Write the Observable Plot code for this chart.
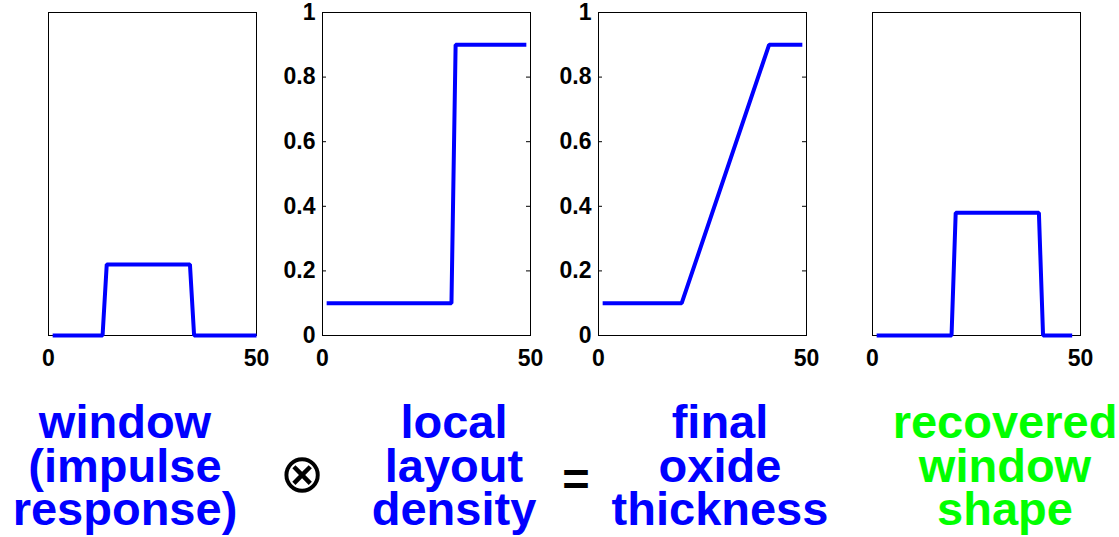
<!DOCTYPE html>
<html>
<head>
<meta charset="utf-8">
<script src="https://cdn.jsdelivr.net/npm/d3@7"></script>
<script src="https://cdn.jsdelivr.net/npm/@observablehq/plot@0.6"></script>
<style>
  html, body { margin: 0; padding: 0; background: #fff; }
  #root { position: relative; width: 1119px; height: 537px; overflow: hidden; font-family: "Liberation Sans", Arial, sans-serif; }
  .panel { position: absolute; top: 0; }
  .panel text { font-weight: bold !important; font-family: "Liberation Sans", Arial, sans-serif !important; fill: black; }
  .lbl { position: absolute; width: 300px; margin-left: -150px; text-align: center; height: 43.5px;
         font-weight: bold; font-size: 47px; line-height: 43.5px; white-space: nowrap; }
</style>
</head>
<body>
<div id="root"></div>
<script>
// ---- data ----
const xTicks = [0, 50];
const yTicks = [0, 0.2, 0.4, 0.6, 0.8, 1];

const windowX = [1, 13, 14, 34, 35, 50];
const windowY = [0, 0, 0.22, 0.22, 0, 0];

const densityX = [1, 31, 32, 49];
const densityY = [0.1, 0.1, 0.9, 0.9];

const oxideX = [1, 20, 41, 49];
const oxideY = [0.1, 0.1, 0.9, 0.9];

const recoveredX = [1, 19, 20, 40, 41, 48];
const recoveredY = [0, 0, 0.38, 0.38, 0, 0];

const captionLines = [
  ["window", "(impulse", "response)"],
  ["local", "layout", "density"],
  ["final", "oxide", "thickness"],
  ["recovered", "window", "shape"]
];
const captionColors = ["#0000ff", "#0000ff", "#0000ff", "#00ff00"];
const operators = ["\u2297", "="];

// ---- layout ----
const root = document.getElementById("root");
const panelLefts = [-4, 270, 546, 820];
const captionCenters = [125, 454, 720, 1005];
const M = {left: 52, right: 30, top: 12, bottom: 45};
const innerW = 208, innerH = 323;
const tickFont = {fontSize: 23, fontWeight: "bold"};

function makePanel(xs, ys, showY) {
  const data = xs.map((x, i) => ({x, y: ys[i]}));
  const marks = [
    Plot.frame({stroke: "black", strokeWidth: 1}),
    Plot.axisX({ticks: xTicks, tickSize: 0, tickPadding: 14, label: null, tickFormat: d => String(d), ...tickFont})
  ];
  if (showY) {
    marks.push(
      Plot.axisY({ticks: yTicks, tickSize: 0, tickPadding: 7, label: null, tickFormat: d => String(d), ...tickFont}),
      Plot.tickY(yTicks, {stroke: "black", insetRight: innerW - 4}),
      Plot.tickY(yTicks, {stroke: "black", insetLeft: innerW - 4})
    );
  }
  marks.push(Plot.line(data, {x: "x", y: "y", stroke: "#0000ff", strokeWidth: 4, strokeLinejoin: "miter", strokeLinecap: "butt"}));
  return Plot.plot({
    width: M.left + innerW + M.right,
    height: M.top + innerH + M.bottom,
    marginLeft: M.left, marginRight: M.right, marginTop: M.top, marginBottom: M.bottom,
    x: {domain: [0, 50]},
    y: {domain: [0, 1], axis: showY ? undefined : null},
    style: {background: "transparent", overflow: "visible", fontSize: "23px", fontWeight: "bold",
            fontFamily: "'Liberation Sans', Arial, sans-serif", color: "black"},
    marks
  });
}

const series = [[windowX, windowY, false], [densityX, densityY, true], [oxideX, oxideY, true], [recoveredX, recoveredY, false]];
series.forEach(([xs, ys, showY], i) => {
  const el = makePanel(xs, ys, showY);
  el.classList.add("panel");
  el.style.left = panelLefts[i] + "px";
  root.appendChild(el);
});

captionLines.forEach((lines, i) => {
  lines.forEach((line, j) => {
    const d = document.createElement("div");
    d.className = "lbl";
    d.style.left = captionCenters[i] + "px";
    d.style.top = (400 + j * 43.5) + "px";
    d.style.color = captionColors[i];
    d.textContent = line;
    root.appendChild(d);
  });
});

// operators
const opSvg = d3.select(root).append("svg")
  .attr("width", 1119).attr("height", 537)
  .style("position", "absolute").style("left", 0).style("top", 0);
opSvg.append("text").attr("x", 302).attr("y", 492).attr("text-anchor", "middle")
  .attr("font-family", "DejaVu Sans").attr("font-size", 54).attr("fill", "black").text(operators[0]);
opSvg.append("text").attr("x", 576).attr("y", 495).attr("text-anchor", "middle")
  .attr("font-family", "'Liberation Sans', Arial").attr("font-weight", "bold").attr("font-size", 47).attr("fill", "black").text(operators[1]);
</script>
</body>
</html>
